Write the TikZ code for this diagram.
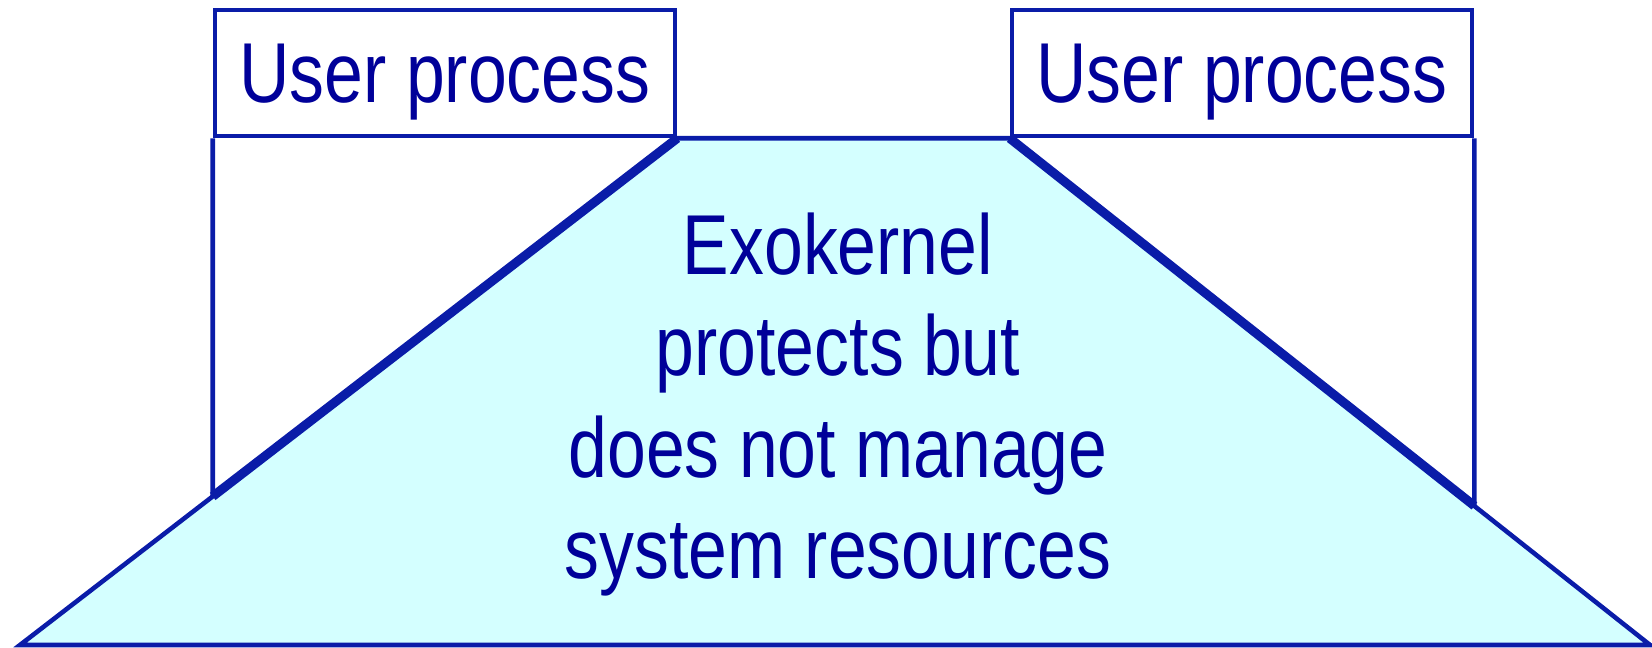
\documentclass[tikz,border=0pt]{standalone}
\usepackage{fontspec}
\setmainfont{Liberation Sans}
\newfontfamily\layerfont[FakeStretch=0.82]{Liberation Sans}
\usepackage{xcolor}
\usepackage{tikz}
\usetikzlibrary{positioning}
\definecolor{exoline}{HTML}{0A1CA8}
\definecolor{exotext}{HTML}{000099}
\definecolor{exofill}{HTML}{D4FFFF}
\tikzset{
    layer/.style={line width=1.3pt, draw=exoline, line join=miter},
    layer text/.style={text=exotext, inner sep=0pt,
        font=\layerfont\fontsize{24.2}{28.9}\selectfont},
}

\begin{document}
\begin{tikzpicture}[
    proc/.style={layer, layer text,
        minimum width=4.6cm, minimum height=1.26cm, text depth=0pt},
    kernel/.style={layer, fill=exofill},
    overlap/.style={layer, line width=2.6pt},
  ]
    \useasboundingbox (0,0) rectangle (16.52,6.48);
    \node[proc] (leftproc) at (4.45,5.75) {User process};
    \node[proc] (rightproc) at (12.42,5.75) {User process};

    % kernel trapezium
    \coordinate (kernbl) at (0.20,0.03);
    \coordinate (kernbr) at (16.50,0.03);
    \draw[kernel] (kernbl) -- (kernbr) -- (rightproc.south west)
        -- (leftproc.south east) -- cycle;
    \node[layer text, align=center] (kerneltext) at (8.38,2.435)
        {Exokernel\\protects but\\does not manage\\system resources};

    % process sides down to the kernel
    \coordinate (leftfoot) at (intersection of kernbl--leftproc.south east
        and leftproc.south west--leftproc.north west);
    \coordinate (rightfoot) at (intersection of kernbr--rightproc.south west
        and rightproc.south east--rightproc.north east);
    \draw[layer] (leftproc.south west) -- (leftfoot);
    \draw[layer] (rightproc.south east) -- (rightfoot);
    \draw[overlap] (leftfoot) -- (leftproc.south east);
    \draw[overlap] (rightfoot) -- (rightproc.south west);
  \end{tikzpicture}
\end{document}
